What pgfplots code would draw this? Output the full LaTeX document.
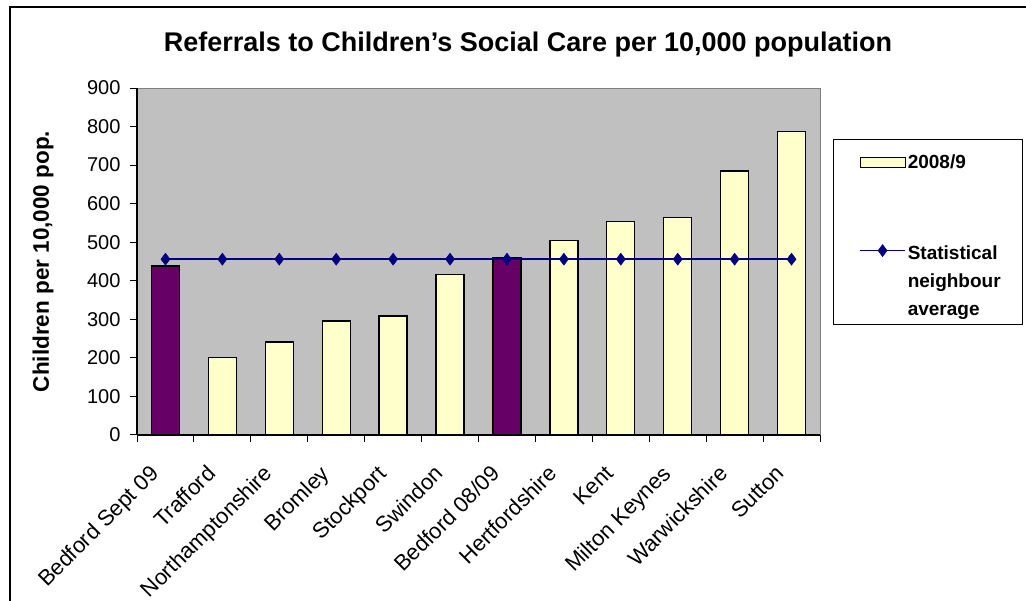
\documentclass[border=0pt]{standalone}
\usepackage{pgfplots}
\pgfplotsset{compat=1.18}
\usepackage{fontspec}
\setmainfont{Liberation Sans}
\definecolor{baryellow}{HTML}{FFFFCC}
\definecolor{barpurple}{HTML}{660066}
\definecolor{plotbg}{HTML}{C0C0C0}
\definecolor{navyline}{HTML}{000080}
\pgfplotsset{
  mybarlegend/.style={legend image code/.code={\draw[##1, line width=1pt] (0pt,-5pt) rectangle (45pt,5pt);}},
  mylinelegend/.style={legend image code/.code={\draw[##1] (0pt,31pt) -- (45pt,31pt); \draw[##1] plot[mark=diamond*] coordinates {(22.5pt,31pt)};}},
}
\begin{document}
\begin{tikzpicture}[x=1pt,y=1pt]
\useasboundingbox (0,0) rectangle (1026,601);
\fill[white] (0,0) rectangle (1026,601);
\draw[black, line width=1.2pt] (10,0) -- (10,594) -- (1026,594);
\node[font=\bfseries\fontsize{27}{32}\selectfont] at (528,556) {Referrals to Children's Social Care per 10,000 population};
\begin{axis}[
  at={(137pt,166pt)}, anchor=south west,
  scale only axis, width=683pt, height=347pt,
  xmin=-0.5, xmax=11.5, ymin=0, ymax=900,
  ytick={0,100,...,900},
  xtick={-0.5,0.5,...,11.5}, xticklabels={},
  extra x ticks={0,1,...,11},
  extra x tick labels={Bedford Sept 09,Trafford,Northamptonshire,Bromley,Stockport,Swindon,Bedford 08/09,Hertfordshire,Kent,Milton Keynes,Warwickshire,Sutton},
  extra x tick style={major tick length=0pt, xticklabel style={xshift=-17pt, yshift=-24pt, rotate=45, anchor=north east, font=\fontsize{22}{26}\selectfont}},
  axis x line*=bottom, axis y line*=left,
  axis line style={-, line width=1.3pt, black},
  tick align=outside, major tick length=7pt,
  tick style={black, line width=1pt},
  axis background/.style={fill=plotbg, draw=gray, line width=1pt},
  ticklabel style={font=\fontsize{20}{24}\selectfont},
  /pgf/number format/assume math mode=true,
  yticklabel style={xshift=-6pt},
  ylabel={Children per 10,000 pop.},
  every axis y label/.style={at={(rel axis cs:-0.1376,0.5)}, rotate=90, anchor=center, font=\bfseries\fontsize{22.5}{26}\selectfont},
  legend style={at={(rel axis cs:1.053,0.82)}, anchor=north west, draw=none, fill=none,
    font=\bfseries\fontsize{19}{28}\selectfont, row sep=72pt},
  legend cell align=left,
]
\addplot[ybar, bar width=28pt, bar shift=0pt, fill=baryellow, draw=black, line width=1.3pt, mybarlegend]
  coordinates {(1,201) (2,241) (3,296) (4,309) (5,416) (7,505) (8,554) (9,564) (10,685) (11,787)};
\addlegendentry{2008/9}
\addplot[ybar, bar width=28pt, bar shift=0pt, fill=barpurple, draw=black, line width=1.3pt, forget plot]
  coordinates {(0,438) (6,461)};
\addplot[navyline, line width=1.4pt, mark=diamond*, mark size=6pt, mark options={fill=navyline, draw=navyline, line width=0.5pt}, mylinelegend]
  coordinates {(0,456) (1,456) (2,456) (3,456) (4,456) (5,456) (6,456) (7,456) (8,456) (9,456) (10,456) (11,456)};
\addlegendentry[align=left]{Statistical\\neighbour\\average}
\end{axis}
\draw[black, line width=1pt] (833,276) rectangle (1022,461);
\end{tikzpicture}
\end{document}
